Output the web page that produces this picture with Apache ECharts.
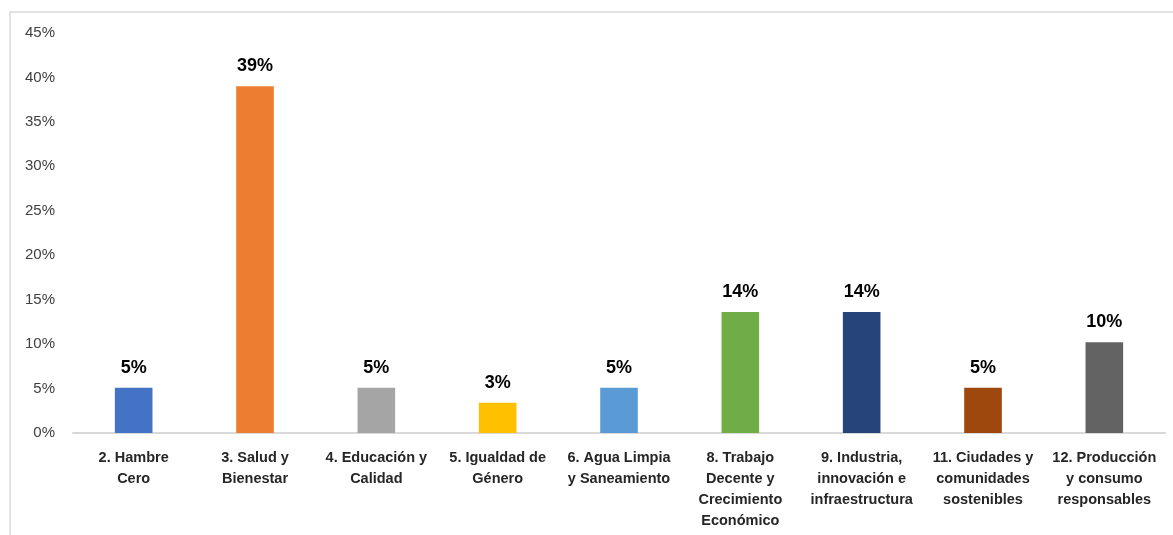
<!DOCTYPE html>
<html><head><meta charset="utf-8">
<script src="https://cdn.jsdelivr.net/npm/echarts@6/dist/echarts.min.js"></script>
<style>html,body{margin:0;padding:0;background:#fff}#c{width:1173px;height:535px}</style>
</head><body><div id="c"></div>
<script>
const categories = ["2. Hambre\nCero","3. Salud y\nBienestar","4. Educación y\nCalidad","5. Igualdad de\nGénero","6. Agua Limpia\ny Saneamiento","8. Trabajo\nDecente y\nCrecimiento\nEconómico","9. Industria,\ninnovación e\ninfraestructura","11. Ciudades y\ncomunidades\nsostenibles","12. Producción\ny consumo\nresponsables"];
const values = [5.1, 39.0, 5.1, 3.4, 5.1, 13.6, 13.6, 5.1, 10.2];
const colors = ["#4472C4","#ED7D31","#A5A5A5","#FFC000","#5B9BD5","#70AD47","#264478","#9E480E","#636363"];
const yTicks = [0,5,10,15,20,25,30,35,40,45];

const chart = echarts.init(document.getElementById('c'), null, {renderer:'canvas'});
chart.setOption({
  animation:false,
  backgroundColor:'#fff',
  graphic:[{type:'rect',shape:{x:10,y:12,width:1170,height:540},style:{fill:'none',stroke:'#d9d9d9',lineWidth:1.5},silent:true}],
  grid:{left:73,right:8,top:33,bottom:102,containLabel:false},
  xAxis:{type:'category',data:categories,
    axisLine:{lineStyle:{color:'#d9d9d9',width:2}},axisTick:{show:false},
    axisLabel:{interval:0,margin:14,fontFamily:'Liberation Sans',fontWeight:'bold',fontSize:14.5,color:'#262626',lineHeight:21}},
  yAxis:{type:'value',min:0,max:45,interval:5,
    splitLine:{show:false},axisLine:{show:false},axisTick:{show:false},
    axisLabel:{formatter:v=>v+'%',fontFamily:'Liberation Sans',fontSize:15,color:'#404040',margin:18}},
  series:[{type:'bar',barWidth:'31%',
    data:values.map((v,i)=>({value:v,itemStyle:{color:colors[i]}})),
    label:{show:true,position:'top',distance:11,formatter:p=>Math.round(p.value)+'%',
      fontFamily:'Liberation Sans',fontWeight:'bold',fontSize:18,color:'#000'}}]
});
</script></body></html>
